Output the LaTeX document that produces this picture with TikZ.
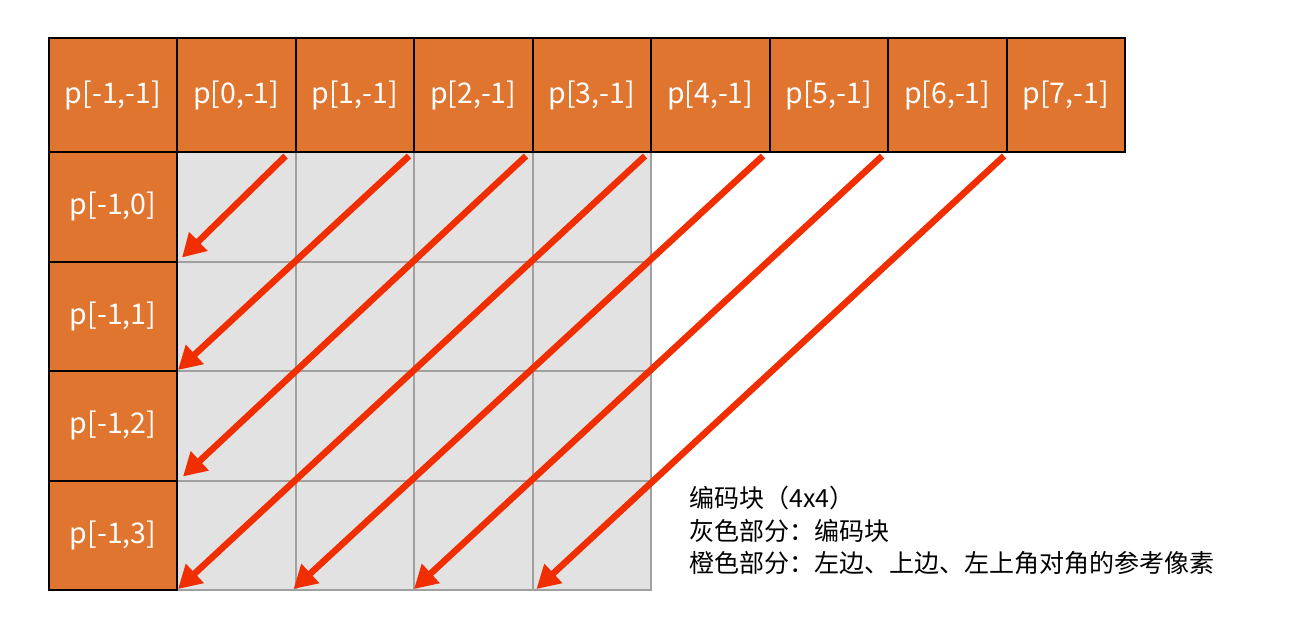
\documentclass[tikz,border=0pt]{standalone}
\usepackage{fontspec}
\setmainfont{Noto Sans CJK SC}
\usetikzlibrary{arrows.meta,calc}
\definecolor{org}{HTML}{E07530}
\definecolor{cellgrey}{HTML}{E2E2E2}
\definecolor{gridline}{HTML}{A0A0A0}
\definecolor{arr}{HTML}{F02E00}
\begin{document}
\begin{tikzpicture}[x=1pt,y=-1pt,
  ocell/.style={draw=black, line width=2pt, fill=org, text=white, inner sep=0pt, outer sep=0pt,
    font=\fontsize{28.5}{32}\selectfont},
  gcell/.style={draw=gridline, line width=2pt, fill=cellgrey, inner sep=0pt, outer sep=0pt,
    minimum width=118.5pt, minimum height=109.5pt},
  diag/.style={draw=arr, line width=6.5pt, -{Triangle[length=23pt,width=25pt]}},
  note/.style={align=left, anchor=north west, inner sep=0pt,
    font=\fontsize{25}{32.5}\selectfont}]
\useasboundingbox[fill=white] (0,0) rectangle (1294,621);
% grey block
\foreach \i in {0,...,3}{
  \foreach \j in {0,...,3}{
    \node[gcell] (g\i\j) at ({177+118.5*\i+59.25},{152+109.5*\j+54.75}) {};
  }
}
% top row
\node[ocell, minimum width=128pt, minimum height=114pt] (tm) at (113,95) {p[-1,-1]};
\foreach \i in {0,...,7}{
  \node[ocell, minimum width=118.5pt, minimum height=114pt] (t\i) at ({177+118.5*\i+59.25},95) {p[\i,-1]};
}
% left column
\foreach \j in {0,...,3}{
  \node[ocell, minimum width=128pt, minimum height=109.5pt] (l\j) at (113,{152+109.5*\j+54.75}) {p[-1,\j]};
}
% arrows
\draw[diag] ($(t0.south east)+(-10,4)$) -- ($(l0.south east)+(5,-4)$);
\draw[diag] ($(t1.south east)+(-5,4)$) -- ($(l1.south east)+(1,-1)$);
\draw[diag] ($(t2.south east)+(-6.5,4)$) -- ($(l2.south east)+(6,-4)$);
\draw[diag] ($(t3.south east)+(-6,4)$) -- ($(l3.south east)+(1,-1)$);
\draw[diag] ($(t4.south east)+(-6.5,4)$) -- ($(g13.south west)+(-2,-1)$);
\draw[diag] ($(t5.south east)+(-6,4)$) -- ($(g23.south west)+(0,-1)$);
\draw[diag] ($(t6.south east)+(-2.5,4)$) -- ($(g33.south west)+(4,-1)$);
% note
\node[note] (txt) at (689,486) {编码块（4x4）\\灰色部分：编码块\\橙色部分：左边、上边、左上角对角的参考像素};
\end{tikzpicture}
\end{document}
